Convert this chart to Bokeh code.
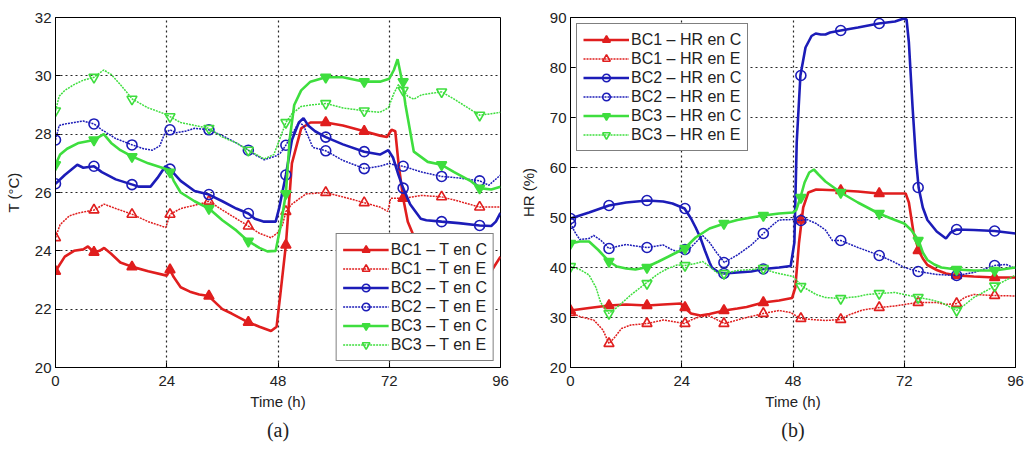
from bokeh.plotting import figure
from bokeh.layouts import row
from bokeh.models import Range1d, FixedTicker, Legend, LegendItem, Title
from bokeh.embed import file_html
from bokeh.resources import INLINE

# ---------------- data ----------------
X_TICKS = [0, 24, 48, 72, 96]
MARK_T = [0, 8.3, 16.5, 24.7, 33.1, 41.6, 49.7, 58.3, 66.6, 75.0, 83.3, 91.5]

# (a) temperature
BC1_TC_t = [0, 2, 4, 6, 7, 8.3, 9.5, 10.5, 12, 14, 16.6, 20, 24, 24.7, 25.5, 27, 29, 31, 33.1, 34, 36, 38, 41.6, 44, 46.5, 47.7, 48.5, 49.7, 51, 53, 55, 58.3, 62, 66.6, 70, 71.5, 72.5, 73.3, 74, 75, 76, 77.3, 79, 82, 86, 90, 94, 96]
BC1_TC_v = [23.3, 23.8, 24.0, 24.05, 24.15, 23.95, 24.0, 24.1, 23.9, 23.6, 23.45, 23.3, 23.15, 23.35, 23.1, 22.75, 22.6, 22.5, 22.45, 22.3, 22.0, 21.85, 21.55, 21.4, 21.25, 21.4, 22.5, 24.2, 27.0, 28.2, 28.4, 28.4, 28.3, 28.1, 27.95, 27.9, 28.15, 28.1, 27.0, 25.8, 25.0, 24.5, 23.5, 22.8, 22.5, 22.7, 23.3, 23.8]
BC1_TC_m = [23.3, 23.95, 23.45, 23.35, 22.45, 21.55, 24.2, 28.4, 28.1, 25.8, 22.5, 22.8]

BC1_TE_t = [0, 1, 3, 5, 8.3, 10.5, 13, 16.6, 20, 23.8, 24.2, 24.7, 27, 31, 33.1, 36, 41.6, 44, 46.5, 47.8, 49, 49.7, 51, 54, 58.3, 62, 66.6, 70, 71.7, 72.3, 75, 79, 83.3, 87, 91.5, 94, 96]
BC1_TE_v = [24.45, 24.9, 25.2, 25.3, 25.4, 25.6, 25.45, 25.25, 25.0, 24.8, 25.0, 25.25, 25.45, 25.6, 25.7, 25.4, 24.85, 24.6, 24.45, 24.6, 24.9, 25.35, 25.6, 25.95, 26.0, 25.85, 25.65, 25.5, 25.35, 25.8, 25.8, 25.9, 25.85, 25.7, 25.5, 25.5, 25.5]
BC1_TE_m = [24.45, 25.4, 25.25, 25.25, 25.7, 24.85, 25.35, 26.0, 25.65, 25.8, 25.85, 25.5]

BC2_TC_t = [0, 2, 4.7, 6, 8.3, 10, 13, 16.6, 18, 20.5, 22, 23.7, 24.7, 27, 30, 33.1, 36, 39, 41.6, 43, 45, 47.5, 48.3, 49.7, 51, 52.5, 53.5, 54.5, 56, 58.3, 62, 66.6, 70, 71.8, 72.8, 74, 75, 76.5, 78.8, 80, 83.3, 87, 91.5, 94, 95, 96]
BC2_TC_v = [26.3, 26.6, 26.95, 26.85, 26.9, 26.7, 26.45, 26.27, 26.2, 26.2, 26.5, 26.9, 26.8, 26.4, 26.05, 25.93, 25.7, 25.45, 25.28, 25.1, 25.0, 25.0, 25.5, 26.6, 27.8, 28.4, 28.55, 28.3, 28.1, 27.9, 27.65, 27.4, 27.3, 27.45, 27.2, 26.6, 26.15, 25.6, 25.1, 25.05, 25.0, 24.95, 24.87, 24.85, 25.0, 25.3]
BC2_TC_m = [26.3, 26.9, 26.27, 26.8, 25.93, 25.28, 26.6, 27.9, 27.4, 26.15, 25.0, 24.87]

BC2_TE_t = [0, 0.8, 2, 4, 6, 8.3, 10, 13, 16.6, 19, 20.9, 22.5, 23.5, 24.7, 26, 28, 30, 33.1, 36, 39, 41.6, 43, 45, 47.5, 48.5, 49.7, 51, 52.5, 53.5, 55.5, 58.3, 62, 66.6, 70, 72, 73, 75, 79, 83.3, 87, 91.5, 93.5, 96]
BC2_TE_v = [27.8, 28.3, 28.35, 28.4, 28.45, 28.35, 28.15, 27.85, 27.63, 27.5, 27.45, 27.6, 28.0, 28.15, 28.05, 28.1, 28.2, 28.15, 27.95, 27.7, 27.45, 27.3, 27.12, 27.25, 27.35, 27.62, 28.0, 28.4, 28.3, 27.55, 27.43, 27.1, 26.82, 26.9, 27.0, 26.95, 26.9, 26.7, 26.55, 26.5, 26.4, 26.25, 26.6]
BC2_TE_m = [27.8, 28.35, 27.63, 28.15, 28.15, 27.45, 27.62, 27.43, 26.82, 26.9, 26.55, 26.4]

BC3_TC_t = [0, 1, 2.5, 5, 8.3, 10.4, 12, 14, 16.6, 20, 24, 24.7, 25.5, 27, 30, 33.1, 36, 39, 41.6, 44, 45.7, 47.5, 48.5, 49.7, 50.5, 51.5, 53, 55, 58.3, 62, 66.6, 70, 72, 73, 73.8, 74.8, 75.5, 77.3, 80.3, 83.3, 86, 89.5, 91.5, 94, 96]
BC3_TC_v = [26.95, 27.3, 27.5, 27.7, 27.8, 28.0, 27.7, 27.45, 27.23, 27.0, 26.8, 26.7, 26.4, 26.0, 25.7, 25.45, 25.05, 24.7, 24.33, 24.1, 23.98, 24.0, 24.8, 25.96, 27.8, 29.0, 29.5, 29.8, 29.95, 29.95, 29.8, 29.8, 29.9, 30.2, 30.57, 29.8, 29.0, 27.4, 27.05, 26.95, 26.7, 26.4, 26.15, 26.1, 26.2]
BC3_TC_m = [26.95, 27.8, 27.23, 26.7, 25.45, 24.33, 25.96, 29.95, 29.8, 29.8, 26.95, 26.15]

BC3_TE_t = [0, 0.8, 2, 4, 6, 8.3, 10.4, 12, 14, 16.6, 20, 23.5, 24.7, 27, 30, 33.1, 36, 39, 41.6, 45, 47.1, 48.3, 49.7, 51, 53, 55, 58.3, 62, 66.6, 70, 71.8, 73, 74, 75, 76, 77.3, 79, 81, 83.3, 86, 89, 91.5, 94, 96]
BC3_TE_v = [28.8, 29.3, 29.5, 29.7, 29.85, 29.95, 30.2, 30.05, 29.7, 29.2, 28.9, 28.7, 28.6, 28.4, 28.3, 28.2, 27.9, 27.7, 27.45, 27.15, 27.3, 27.8, 28.4, 28.7, 28.95, 29.0, 29.05, 28.9, 28.8, 28.75, 28.9, 29.4, 29.7, 29.5, 29.3, 29.2, 29.35, 29.4, 29.45, 29.2, 28.9, 28.65, 28.7, 28.75]
BC3_TE_m = [28.8, 29.95, 29.2, 28.6, 28.2, 27.45, 28.4, 29.05, 28.8, 29.5, 29.45, 28.65]

# (b) relative humidity
BC1_HC_t = [0, 4, 8.3, 12, 16.6, 20, 23.8, 24.6, 26, 28, 30, 33.2, 36, 38, 41.6, 45, 47.8, 48.5, 49.3, 50.2, 51.3, 53, 58.3, 62, 66.5, 70, 72.3, 73, 74, 75.1, 76, 77, 79, 81, 83.3, 87, 91.5, 96]
BC1_HC_v = [31.4, 31.9, 32.4, 32.6, 32.4, 32.6, 32.8, 32.0, 30.8, 30.4, 30.7, 31.4, 31.8, 32.1, 33.0, 33.4, 33.9, 36, 45, 52, 55.0, 55.6, 55.4, 55.2, 54.8, 54.8, 54.8, 53, 47, 43.4, 41.8, 40.5, 39.5, 38.8, 38.4, 38.2, 38.0, 38.0]
BC1_HC_m = [31.4, 32.4, 32.4, 32.0, 31.4, 33.0, 49.5, 55.4, 54.8, 43.4, 38.4, 38.0]

BC1_HE_t = [0, 2, 5, 7, 8.3, 9.5, 11, 13, 16.6, 20, 24.6, 26, 28, 30, 33.2, 36, 38, 41.6, 45, 47.5, 49.6, 52, 55, 58.3, 60, 63, 66.7, 70, 72, 75, 79, 81, 83.3, 85, 87, 91.5, 96]
BC1_HE_v = [31.0, 30.2, 29.5, 27.5, 24.8, 26, 27.8, 28.5, 28.8, 29.5, 28.8, 29.5, 30.2, 30.3, 28.8, 29.5, 30.0, 30.8, 31.4, 31.0, 29.8, 29.6, 29.4, 29.6, 30.5, 31.5, 32.0, 32.3, 32.6, 33.0, 33.0, 32.6, 32.8, 34.0, 34.6, 34.4, 34.3]
BC1_HE_m = [31.0, 24.8, 28.8, 28.8, 28.8, 30.8, 29.8, 29.6, 32.0, 33.0, 32.8, 34.4]

BC2_HC_t = [0, 4, 8.3, 12, 16.6, 20, 22, 24.6, 26, 27, 28, 29, 30, 30.5, 32, 33.2, 36, 39, 41.6, 45, 47.5, 48.3, 48.8, 49.6, 50.7, 52, 52.9, 54, 55, 56, 58.3, 62, 66.5, 70, 71.9, 72.5, 73, 73.8, 74.5, 75.1, 76, 77, 79, 81, 82, 83.3, 87, 91.5, 96]
BC2_HC_v = [49.8, 51, 52.4, 53.0, 53.4, 53.2, 52.8, 51.8, 49.8, 48, 46, 43.4, 41, 40, 39, 38.8, 39.0, 39.2, 39.7, 40.0, 40.3, 45, 65, 78.4, 84, 86.3, 86.8, 86.6, 86.6, 87.0, 87.4, 88.0, 88.8, 89.2, 89.8, 89.6, 85, 72, 62, 56, 52, 49.5, 47.2, 45.8, 47.0, 47.6, 47.5, 47.3, 46.8]
BC2_HC_m = [49.8, 52.4, 53.4, 51.8, 38.8, 39.7, 78.4, 87.4, 88.8, 56.0, 47.6, 47.3]

BC2_HE_t = [0, 1, 2, 4, 5, 6.5, 8.3, 10, 12, 14, 16.6, 20, 22, 24, 25.5, 27, 28.5, 30, 31.5, 33.2, 36, 39, 41.6, 44, 45, 48, 49.6, 51, 53, 55, 56.5, 58.3, 62, 66.7, 70, 72, 75.1, 79, 83.3, 87, 89, 91.5, 94, 96]
BC2_HE_v = [48.8, 47, 45.6, 45.8, 46.4, 45.5, 43.8, 44.2, 44.6, 44.3, 44.0, 44.5, 43.5, 43.0, 43.6, 45, 46.4, 45, 43, 41.0, 42.5, 44.5, 46.8, 48.8, 49.5, 49.6, 49.4, 49.6, 48.8, 47.5, 45.4, 45.4, 44.0, 42.4, 41, 40.0, 39.2, 38.6, 38.4, 39.0, 39.6, 40.4, 40.6, 39.8]
BC2_HE_m = [48.8, 43.8, 44.0, 43.6, 41.0, 46.8, 49.4, 45.4, 42.4, 39.2, 38.4, 40.4]

BC3_HC_t = [0, 2, 4, 6, 8.3, 10, 12, 14, 16.2, 19, 22, 24.6, 27, 30, 33.2, 36, 39, 41.6, 45, 48, 48.7, 49.6, 50.5, 51.5, 52.5, 53.5, 55, 58.3, 62, 66.5, 70, 72, 73.5, 75.1, 76, 77, 78.5, 80, 83.3, 87, 91.5, 96]
BC3_HC_v = [44.8, 45.2, 45.2, 43.5, 41.2, 40.2, 39.8, 39.6, 40.0, 41.2, 42.6, 43.8, 46.0, 47.8, 48.8, 49.5, 50.0, 50.4, 50.8, 51.0, 51.5, 54, 57, 59.0, 59.6, 58.6, 57.2, 55.0, 53.0, 50.8, 49.5, 48.8, 47.5, 45.4, 43, 41.5, 40.6, 40.0, 39.6, 39.4, 39.4, 40.0]
BC3_HC_m = [44.8, 41.2, 40.0, 43.8, 48.8, 50.4, 54.0, 55.0, 50.8, 45.4, 39.6, 39.4]

BC3_HE_t = [0, 2, 4, 5.5, 6.5, 8.3, 10, 13, 16.2, 19, 21, 23, 24.6, 27, 28.5, 30, 31.5, 33.2, 36, 39, 41.6, 44, 46, 48, 50, 53, 55, 58.3, 62, 64, 66.7, 70, 72, 75.1, 78, 80, 83.3, 85, 87, 89, 91.5, 94, 96]
BC3_HE_v = [40.2, 39.6, 38.5, 36, 33, 30.8, 32, 34.5, 36.8, 38.8, 39.8, 40.5, 40.4, 40.8, 41.2, 40.2, 39, 38.8, 39.4, 39.6, 39.8, 39.0, 38.6, 38.2, 36.2, 34.6, 34.0, 33.8, 34.2, 34.6, 34.8, 35.0, 34.6, 34.0, 33.5, 33.0, 31.4, 32.5, 34.0, 35.0, 36.3, 37.5, 38.5]
BC3_HE_m = [40.2, 30.8, 36.8, 40.4, 38.8, 39.8, 36.2, 33.8, 34.8, 34.0, 31.4, 36.3]

LABELS_T = ["BC1 \u2013 T en C", "BC1 \u2013 T en E", "BC2 \u2013 T en C",
            "BC2 \u2013 T en E", "BC3 \u2013 T en C", "BC3 \u2013 T en E"]
LABELS_H = ["BC1 \u2013 HR en C", "BC1 \u2013 HR en E", "BC2 \u2013 HR en C",
            "BC2 \u2013 HR en E", "BC3 \u2013 HR en C", "BC3 \u2013 HR en E"]

# ---------------- styles ----------------
RED = "#e01e1e"
BLUE = "#1c1cb8"
GREEN = "#3ede3e"
STYLES = [
    dict(color=RED, marker="triangle", filled=True, solid=True),
    dict(color=RED, marker="triangle", filled=False, solid=False),
    dict(color=BLUE, marker="circle", filled=False, solid=True),
    dict(color=BLUE, marker="circle", filled=False, solid=False),
    dict(color=GREEN, marker="inverted_triangle", filled=True, solid=True),
    dict(color=GREEN, marker="inverted_triangle", filled=False, solid=False),
]
FONT = "Liberation Sans"


def make_fig(series, labels, ymin, ymax, yticks, ylabel, panel, width,
             top, left, right, legend_loc):
    p = figure(width=width, height=450, x_range=Range1d(0, 96),
               y_range=Range1d(ymin, ymax), output_backend="svg",
               toolbar_location=None, min_border_left=left,
               min_border_right=right, min_border_top=top,
               min_border_bottom=83)
    p.background_fill_color = "white"
    p.border_fill_color = "white"
    p.outline_line_color = "black"
    p.outline_line_width = 1
    p.outline_line_alpha = 1

    p.xaxis.ticker = FixedTicker(ticks=X_TICKS)
    p.yaxis.ticker = FixedTicker(ticks=yticks)
    for ax in (p.xaxis[0], p.yaxis[0]):
        ax.axis_line_color = "black"
        ax.major_tick_line_color = "black"
        ax.major_tick_in = 5
        ax.major_tick_out = 0
        ax.minor_tick_line_color = None
        ax.major_label_text_font = FONT
        ax.major_label_text_font_size = "15px"
        ax.major_label_text_color = "#222222"
        ax.axis_label_text_font = FONT
        ax.axis_label_text_font_size = "15px"
        ax.axis_label_text_font_style = "normal"
        ax.axis_label_text_color = "#222222"
    p.xaxis.axis_label = "Time (h)"
    p.yaxis.axis_label = ylabel
    p.xaxis.major_label_standoff = 8
    p.xaxis.axis_label_standoff = 4
    p.yaxis.major_label_standoff = 4
    p.yaxis.axis_label_standoff = 10

    for g in (p.xgrid[0], p.ygrid[0]):
        g.grid_line_color = "black"
        g.grid_line_dash = "2 3"
        g.grid_line_width = 1.2
        g.grid_line_alpha = 0.85
    p.xgrid.ticker = FixedTicker(ticks=X_TICKS)
    p.ygrid.ticker = FixedTicker(ticks=yticks)

    items = []
    for (t, v, m), lab, st in zip(series, labels, STYLES):
        if st["solid"]:
            lr = p.line(t, v, color=st["color"], line_width=2.6)
        else:
            lr = p.line(t, v, color=st["color"], line_width=1.5, line_dash="2 1")
        sr = p.scatter(MARK_T, m, marker=st["marker"], size=10,
                       line_color=st["color"], line_width=1.6,
                       fill_color=st["color"] if st["filled"] else None)
        items.append(LegendItem(label=lab, renderers=[lr, sr]))

    leg = Legend(items=items, location=legend_loc)
    leg.border_line_color = "black"
    leg.border_line_width = 1
    leg.background_fill_color = "white"
    leg.background_fill_alpha = 1
    leg.label_text_font = FONT
    leg.label_text_font_size = "16px"
    leg.label_text_color = "#222222"
    leg.glyph_width = 46
    leg.glyph_height = 19
    leg.label_height = 19
    leg.label_standoff = 2
    leg.spacing = 0
    leg.padding = 6
    leg.margin = 6
    p.add_layout(leg)

    t = Title(text=panel, align="center", text_font="Liberation Serif",
              text_font_size="20px", text_font_style="normal",
              text_color="#222222")
    t.standoff = 8
    p.add_layout(t, "below")
    return p


series_a = [(BC1_TC_t, BC1_TC_v, BC1_TC_m), (BC1_TE_t, BC1_TE_v, BC1_TE_m),
            (BC2_TC_t, BC2_TC_v, BC2_TC_m), (BC2_TE_t, BC2_TE_v, BC2_TE_m),
            (BC3_TC_t, BC3_TC_v, BC3_TC_m), (BC3_TE_t, BC3_TE_v, BC3_TE_m)]
series_b = [(BC1_HC_t, BC1_HC_v, BC1_HC_m), (BC1_HE_t, BC1_HE_v, BC1_HE_m),
            (BC2_HC_t, BC2_HC_v, BC2_HC_m), (BC2_HE_t, BC2_HE_v, BC2_HE_m),
            (BC3_HC_t, BC3_HC_v, BC3_HC_m), (BC3_HE_t, BC3_HE_v, BC3_HE_m)]

p1 = make_fig(series_a, LABELS_T, 20, 32, [20, 22, 24, 26, 28, 30, 32],
              "T (\u00b0C)", "(a)", 515, 15, 55, 15, "bottom_right")
p2 = make_fig(series_b, LABELS_H, 20, 90, [20, 30, 40, 50, 60, 70, 80, 90],
              "HR (%)", "(b)", 513, 17, 55, 13, "top_left")

layout = row(p1, p2)
open("out.html", "w").write(file_html(layout, INLINE))
